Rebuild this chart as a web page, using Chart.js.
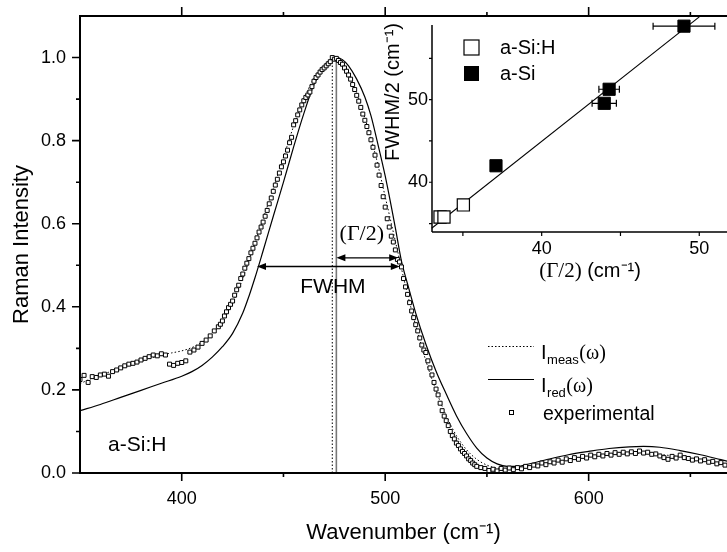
<!DOCTYPE html>
<html><head><meta charset="utf-8">
<script src="https://cdn.jsdelivr.net/npm/chart.js@4"></script>
<style>
html,body{margin:0;padding:0;background:#fff;}
#wrap{position:relative;width:727px;height:552px;overflow:hidden;background:#fff;}
#main{position:absolute;left:0;top:0;}
#inset{position:absolute;left:372px;top:0;}
</style></head><body>
<div id="wrap"><canvas id="main" width="727" height="552"></canvas><canvas id="inset" width="355" height="290"></canvas></div>
<script>
// ---------------- main chart data ----------------
const expX = [350,352,354,356,358,360,362,364,366,368,370,372,374,376,378,380,382,384,386,388,390,392,394,396,398,400,402,404,406,408,410,412,414,416,418,
419,420,421,422,423,424,425,426,427,428,429,430,431,432,433,434,435,436,437,438,439,440,441,442,443,444,445,446,447,448,449,450,451,452,453,454,455,456,457,458,459,460,461,462,463,464,465,466,467,468,469,470,471,472,473,474,475,476,477,478,479,480,481,482,483,484,485,486,487,488,489,490,491,492,493,494,495,496,497,498,499,500,501,502,503,504,505,506,507,508,509,510,511,512,513,514,515,516,517,518,519,520,521,522,523,524,525,526,527,528,529,530,531,532,533,534,535,536,537,538,539,540,541,542,543,544,545,
547,549,551,553,555,557,559,561,563,565,567,569,571,573,575,577,579,581,583,585,587,589,591,593,595,597,599,601,603,605,607,609,611,613,615,617,619,621,623,625,627,629,631,633,635,637,639,641,643,645,647,649,651,653,655,657,659,661,663,665,667];
const expY = [0.225,0.235,0.218,0.232,0.230,0.236,0.238,0.233,0.244,0.248,0.253,0.258,0.262,0.264,0.267,0.272,0.276,0.280,0.284,0.282,0.287,0.284,0.262,0.259,0.264,0.266,0.270,0.291,0.296,0.303,0.312,0.320,0.330,0.342,0.352,
0.358,0.366,0.378,0.388,0.398,0.406,0.414,0.428,0.441,0.452,0.468,0.479,0.493,0.505,0.516,0.530,0.541,0.553,0.566,0.580,0.592,0.604,0.618,0.632,0.648,0.662,0.678,0.693,0.707,0.722,0.737,0.749,0.763,0.777,0.795,0.808,0.838,0.848,0.862,0.874,0.886,0.896,0.904,0.910,0.917,0.930,0.943,0.952,0.958,0.965,0.971,0.975,0.980,0.985,0.990,1.000,0.996,0.998,0.993,0.988,0.984,0.975,0.967,0.958,0.948,0.935,0.923,0.909,0.895,0.880,0.864,0.849,0.834,0.819,0.802,0.784,0.765,0.741,0.717,0.692,0.665,0.640,0.612,0.592,0.570,0.556,0.537,0.514,0.508,0.496,0.468,0.448,0.430,0.410,0.390,0.374,0.357,0.342,0.325,0.308,0.296,0.290,0.270,0.253,0.236,0.218,0.202,0.188,0.168,0.150,0.137,0.126,0.114,0.100,0.090,0.082,0.072,0.066,0.058,0.052,0.047,0.041,0.034,0.030,0.024,0.020,0.016,
0.013,0.011,0.006,0.009,0.005,0.011,0.007,0.012,0.008,0.013,0.010,0.016,0.013,0.019,0.017,0.024,0.020,0.027,0.024,0.031,0.026,0.034,0.030,0.037,0.033,0.040,0.036,0.043,0.039,0.045,0.041,0.047,0.043,0.049,0.045,0.050,0.046,0.051,0.047,0.053,0.048,0.050,0.045,0.046,0.041,0.037,0.033,0.040,0.036,0.043,0.037,0.035,0.031,0.034,0.029,0.032,0.026,0.028,0.022,0.025,0.019];

const measX = [350,355,360,365,370,375,380,385,390,395,400,405,410,415,420,425,430,435,440,445,450,455,460,465,470,474,478,482,486,490,495,500,505,510,515,520,525,530,535,540,545,550,555,560,570,580,590,600,610,620,630,640,650,660,670];
const measY = [0.215,0.226,0.236,0.244,0.252,0.260,0.269,0.277,0.284,0.289,0.294,0.302,0.315,0.335,0.366,0.410,0.468,0.540,0.612,0.685,0.760,0.835,0.900,0.950,0.982,0.997,0.990,0.962,0.915,0.855,0.770,0.665,0.558,0.450,0.355,0.270,0.198,0.138,0.090,0.056,0.033,0.019,0.012,0.011,0.015,0.024,0.032,0.040,0.045,0.048,0.047,0.042,0.035,0.027,0.019];

const redX = [350,360,370,380,390,400,405,410,415,420,425,430,433,436,440,445,450,455,460,465,470,473,476,479,482,486,490,493,496,500,505,508,511,515,520,525,530,535,540,545,550,555,560,565,570,580,590,600,610,620,627,635,645,655,665,670];
const redY = [0.150,0.165,0.182,0.199,0.216,0.233,0.244,0.259,0.279,0.304,0.336,0.385,0.425,0.470,0.535,0.618,0.700,0.785,0.865,0.935,0.978,0.994,1.000,0.995,0.980,0.948,0.905,0.860,0.800,0.715,0.590,0.510,0.455,0.385,0.310,0.245,0.190,0.138,0.095,0.060,0.036,0.022,0.016,0.016,0.021,0.033,0.044,0.052,0.059,0.063,0.064,0.062,0.054,0.044,0.032,0.026];

const peakMeas = 474, peakRed = 476;          // vertical marker lines
const fwhmLeft = 437, fwhmRight = 507.2, fwhmLevel = 0.497;
const gammaLeft = 476, gammaRight = 506.4, gammaLevel = 0.518;

const xTicks = [400, 500, 600];
const xMinor = [450, 550, 650];
const yTicks = [0, 0.2, 0.4, 0.6, 0.8, 1.0];
const yMinor = [0.1, 0.3, 0.5, 0.7, 0.9];

// ---------------- inset data ----------------
const hX = [33.55, 33.8, 35.03];
const hY = [35.8, 35.8, 37.26];
const siX = [37.1, 43.97, 44.28, 49.03];
const siY = [42.0, 49.56, 51.26, 58.9];
const siXErr = [0, 0.77, 0.65, 1.96];
const fitX = [33.02, 50.0];
const fitY = [34.44, 60.03];
const insetXTicks = [40, 50];
const insetXMinor = [35, 45];
const insetYTicks = [40, 50];
const insetYMinor = [35, 45, 55];

const SANS = "'Liberation Sans', Arial, Helvetica, sans-serif";
const SERIF = "'Liberation Serif', 'Times New Roman', serif";
Chart.defaults.font.family = SANS;
Chart.defaults.color = '#000';

const toPts = (xs, ys) => xs.map((x, i) => ({x: x, y: ys[i]}));
const noPad = s => { s.paddingTop = 0; s.paddingBottom = 0; s.paddingLeft = 0; s.paddingRight = 0; };

function drawArrow(ctx, x1, x2, yy) {
  ctx.lineWidth = 1.3;
  ctx.beginPath(); ctx.moveTo(x1 + 5, yy); ctx.lineTo(x2 - 5, yy); ctx.stroke();
  [[x1, 1], [x2, -1]].forEach(([xp, d]) => {
    ctx.beginPath(); ctx.moveTo(xp, yy); ctx.lineTo(xp + d * 9, yy - 3.5); ctx.lineTo(xp + d * 9, yy + 3.5); ctx.closePath(); ctx.fill();
  });
}

const mainDecor = {
  id: 'mainDecor',
  afterDraw(chart) {
    const {ctx, chartArea: a, scales: {x, y}} = chart;
    ctx.save();
    ctx.strokeStyle = '#000'; ctx.fillStyle = '#000';
    ctx.lineWidth = 2;
    ctx.beginPath();
    ctx.moveTo(a.left, a.top); ctx.lineTo(a.right + 2, a.top);
    ctx.moveTo(a.left, a.top - 1); ctx.lineTo(a.left, a.bottom + 1);
    ctx.moveTo(a.left - 1, a.bottom); ctx.lineTo(a.right + 2, a.bottom);
    ctx.stroke();
    ctx.lineWidth = 1.6;
    ctx.beginPath();
    xTicks.forEach(v => { const p = x.getPixelForValue(v); ctx.moveTo(p, a.bottom); ctx.lineTo(p, a.bottom + 8); ctx.moveTo(p, a.top); ctx.lineTo(p, a.top - 9); });
    xMinor.forEach(v => { const p = x.getPixelForValue(v); ctx.moveTo(p, a.bottom); ctx.lineTo(p, a.bottom + 4); ctx.moveTo(p, a.top); ctx.lineTo(p, a.top - 4); });
    yTicks.forEach(v => { const p = y.getPixelForValue(v); ctx.moveTo(a.left, p); ctx.lineTo(a.left - 8, p); });
    yMinor.forEach(v => { const p = y.getPixelForValue(v); ctx.moveTo(a.left, p); ctx.lineTo(a.left - 4, p); });
    ctx.stroke();

    // arrows
    drawArrow(ctx, x.getPixelForValue(fwhmLeft), x.getPixelForValue(fwhmRight), y.getPixelForValue(fwhmLevel));
    drawArrow(ctx, x.getPixelForValue(gammaLeft), x.getPixelForValue(gammaRight), y.getPixelForValue(gammaLevel));

    // annotation texts
    ctx.textAlign = 'center'; ctx.textBaseline = 'middle';
    ctx.font = '22px ' + SERIF;
    ctx.fillText('(\u0393/2)', x.getPixelForValue(488.5), y.getPixelForValue(0.574));
    ctx.font = '21px ' + SANS;
    ctx.fillText('FWHM', x.getPixelForValue(474.3), y.getPixelForValue(0.447));
    ctx.textAlign = 'left';
    ctx.fillText('a-Si:H', x.getPixelForValue(363.8), y.getPixelForValue(0.068));

    // legend
    ctx.lineWidth = 1;
    ctx.setLineDash([1.5, 2]);
    ctx.beginPath(); ctx.moveTo(488, 346.5); ctx.lineTo(534, 346.5); ctx.stroke();
    ctx.setLineDash([]);
    ctx.lineWidth = 1.2;
    ctx.beginPath(); ctx.moveTo(488, 379.5); ctx.lineTo(534, 379.5); ctx.stroke();
    ctx.fillStyle = '#fff'; ctx.lineWidth = 1;
    ctx.fillRect(509.5, 410.5, 4, 4); ctx.strokeRect(509.5, 410.5, 4, 4);
    ctx.fillStyle = '#000';
    const entry = (yb, sub) => {
      ctx.textBaseline = 'alphabetic'; ctx.textAlign = 'left';
      ctx.font = '20px ' + SANS;
      ctx.fillText('I', 541, yb);
      const w = ctx.measureText('I').width;
      ctx.font = '13px ' + SANS;
      ctx.fillText(sub, 541 + w + 0.5, yb + 5);
      const w2 = ctx.measureText(sub).width;
      ctx.font = '20px ' + SERIF;
      ctx.fillText('(\u03c9)', 541 + w + w2 + 1, yb);
    };
    entry(359, 'meas');
    entry(392, 'red');
    ctx.font = '19.5px ' + SANS;
    ctx.fillText('experimental', 543, 420);
    ctx.restore();
  }
};

new Chart(document.getElementById('main'), {
  type: 'line',
  data: { datasets: [
    {label: 'experimental', data: toPts(expX, expY), showLine: false, pointStyle: 'rect', pointRadius: 2.8, pointBorderWidth: 1, pointBackgroundColor: '#fff', pointBorderColor: '#000', borderColor: '#000'},
    {label: 'I_meas(\u03c9)', data: toPts(measX, measY), borderColor: '#000', borderWidth: 1, borderDash: [1.5, 2.2], pointRadius: 0, cubicInterpolationMode: 'monotone'},
    {label: 'I_red(\u03c9)', data: toPts(redX, redY), borderColor: '#000', borderWidth: 1.2, pointRadius: 0, cubicInterpolationMode: 'monotone'},
    {label: 'peak I_meas', data: toPts([peakMeas, peakMeas], [0, 1.0]), borderColor: '#000', borderWidth: 1, borderDash: [1.5, 2], pointRadius: 0},
    {label: 'peak I_red', data: toPts([peakRed, peakRed], [0, 1.0]), borderColor: '#777', borderWidth: 1.6, pointRadius: 0}
  ]},
  options: {
    responsive: false, animation: false, events: [],
    layout: {autoPadding: false, padding: {top: 16, right: 0, left: 0, bottom: 0}},
    plugins: {legend: {display: false}, tooltip: {enabled: false}},
    scales: {
      x: {type: 'linear', min: 350, max: 668,
        afterFit(s) { s.height = 79; noPad(s); },
        afterBuildTicks(s) { s.ticks = xTicks.map(v => ({value: v})); },
        grid: {display: false, drawTicks: false}, border: {display: false},
        ticks: {font: {size: 18}, padding: 15, maxRotation: 0, autoSkip: false, callback: v => String(v)},
        title: {display: true, text: 'Wavenumber (cm\u207b\u00b9)', font: {size: 22}, padding: {top: 0, bottom: 6}}},
      y: {type: 'linear', min: 0, max: 1.1,
        afterFit(s) { s.width = 80; noPad(s); },
        afterBuildTicks(s) { s.ticks = yTicks.map(v => ({value: v})); },
        grid: {display: false, drawTicks: false}, border: {display: false},
        ticks: {font: {size: 18}, padding: 14, autoSkip: false, callback: v => Number(v).toFixed(1)},
        title: {display: true, text: 'Raman Intensity', font: {size: 22}, padding: {top: 9, bottom: 0}}}
    }
  },
  plugins: [mainDecor]
});

// ---------------- inset ----------------
const insetDecor = {
  id: 'insetDecor',
  beforeDatasetsDraw(chart) {
    const {ctx, scales: {x, y}} = chart;
    ctx.save(); ctx.strokeStyle = '#000'; ctx.lineWidth = 1.2;
    siX.forEach((v, i) => {
      const e = siXErr[i]; if (!e) return;
      const x1 = x.getPixelForValue(v - e), x2 = x.getPixelForValue(v + e), py = y.getPixelForValue(siY[i]);
      ctx.beginPath();
      ctx.moveTo(x1, py); ctx.lineTo(x2, py);
      ctx.moveTo(x1, py - 3.5); ctx.lineTo(x1, py + 3.5);
      ctx.moveTo(x2, py - 3.5); ctx.lineTo(x2, py + 3.5);
      ctx.stroke();
    });
    ctx.restore();
  },
  afterDraw(chart) {
    const {ctx, chartArea: a, scales: {x, y}} = chart;
    ctx.save(); ctx.strokeStyle = '#000'; ctx.fillStyle = '#000';
    ctx.lineWidth = 1.5;
    ctx.beginPath();
    ctx.moveTo(a.left, a.top); ctx.lineTo(a.left, a.bottom);
    ctx.moveTo(a.left, a.bottom); ctx.lineTo(a.right + 2, a.bottom);
    ctx.stroke();
    ctx.lineWidth = 1.2;
    ctx.beginPath();
    insetXTicks.forEach(v => { const p = x.getPixelForValue(v); ctx.moveTo(p, a.bottom); ctx.lineTo(p, a.bottom + 4); });
    insetXMinor.forEach(v => { const p = x.getPixelForValue(v); ctx.moveTo(p, a.bottom); ctx.lineTo(p, a.bottom + 4); });
    insetYTicks.forEach(v => { const p = y.getPixelForValue(v); ctx.moveTo(a.left, p); ctx.lineTo(a.left - 3, p); });
    insetYMinor.forEach(v => { const p = y.getPixelForValue(v); ctx.moveTo(a.left, p); ctx.lineTo(a.left - 3, p); });
    ctx.stroke();
    // legend
    ctx.lineWidth = 1.2;
    ctx.fillStyle = '#fff';
    ctx.fillRect(92, 40, 15, 15); ctx.strokeRect(92, 40, 15, 15);
    ctx.fillStyle = '#000';
    ctx.fillRect(92, 66, 15, 15);
    ctx.font = '20px ' + SANS; ctx.textAlign = 'left'; ctx.textBaseline = 'middle';
    ctx.fillText('a-Si:H', 128, 48);
    ctx.fillText('a-Si', 128, 74);
    // y title
    ctx.save();
    ctx.translate(21, 23); ctx.rotate(-Math.PI / 2);
    ctx.textAlign = 'right'; ctx.textBaseline = 'middle';
    ctx.font = '20px ' + SANS;
    ctx.fillText('FWHM/2 (cm\u207b\u00b9)', 0, 0);
    ctx.restore();
    // x title: serif (Γ/2) + sans (cm-1)
    ctx.textBaseline = 'middle'; ctx.textAlign = 'left';
    ctx.font = '21px ' + SERIF;
    const t1 = '(\u0393/2)';
    const w1 = ctx.measureText(t1).width;
    ctx.font = '20px ' + SANS;
    const t2 = ' (cm\u207b\u00b9)';
    const w2 = ctx.measureText(t2).width;
    const x0 = 218 - (w1 + w2) / 2;
    ctx.font = '21px ' + SERIF;
    ctx.fillText(t1, x0, 271);
    ctx.font = '20px ' + SANS;
    ctx.fillText(t2, x0 + w1, 271);
    ctx.restore();
  }
};

new Chart(document.getElementById('inset'), {
  type: 'line',
  data: { datasets: [
    {label: 'a-Si:H', data: toPts(hX, hY), showLine: false, pointStyle: 'rect', pointRadius: 8.6, pointBorderWidth: 1.2, pointBackgroundColor: '#fff', pointBorderColor: '#000', clip: false},
    {label: 'a-Si', data: toPts(siX, siY), showLine: false, pointStyle: 'rect', pointRadius: 8.6, pointBorderWidth: 1, pointBackgroundColor: '#000', pointBorderColor: '#000', clip: false},
    {label: 'linear fit', data: toPts(fitX, fitY), borderColor: '#000', borderWidth: 1.1, pointRadius: 0, clip: false}
  ]},
  options: {
    responsive: false, animation: false, events: [],
    layout: {autoPadding: false, padding: {top: 25, right: 0, left: 0, bottom: 0}},
    plugins: {legend: {display: false}, tooltip: {enabled: false}},
    scales: {
      x: {type: 'linear', min: 33.04, max: 51.76,
        afterFit(s) { s.height = 58; noPad(s); },
        afterBuildTicks(s) { s.ticks = insetXTicks.map(v => ({value: v})); },
        grid: {display: false, drawTicks: false}, border: {display: false},
        ticks: {font: {size: 18}, padding: 6, maxRotation: 0, autoSkip: false}},
      y: {type: 'linear', min: 33.98, max: 59.04,
        afterFit(s) { s.width = 60; noPad(s); },
        afterBuildTicks(s) { s.ticks = insetYTicks.map(v => ({value: v})); },
        grid: {display: false, drawTicks: false}, border: {display: false},
        ticks: {font: {size: 18}, padding: 4, autoSkip: false}}
    }
  },
  plugins: [insetDecor]
});
</script></body></html>
